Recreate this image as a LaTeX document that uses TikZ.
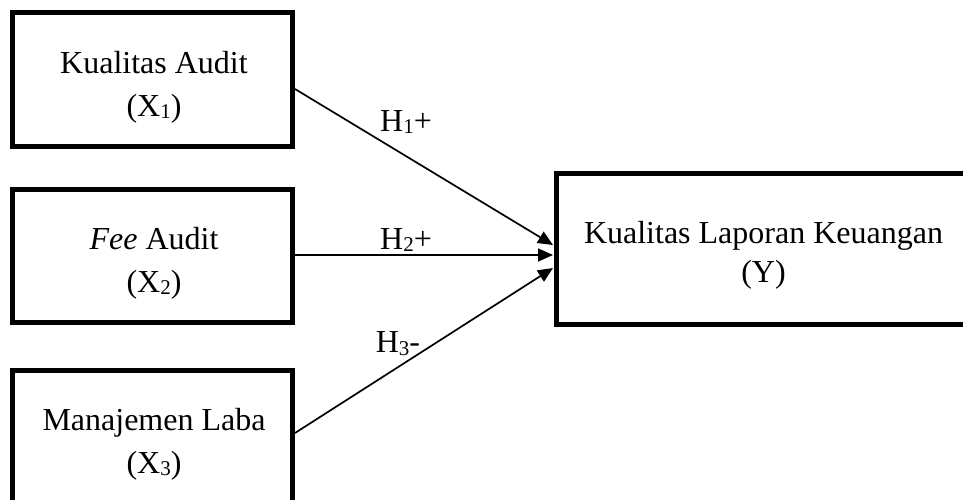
\documentclass[tikz,border=0pt]{standalone}
\usepackage{fontspec}
\setmainfont{Liberation Serif}
\usetikzlibrary{arrows.meta,calc}
\newcommand{\sbs}[1]{\raisebox{-2.5pt}{\fontsize{21}{21}\selectfont #1}}
\begin{document}
\begin{tikzpicture}[x=1pt,y=-1pt,
  varbox/.style={draw=black,line width=5pt,rectangle,inner sep=0pt,minimum width=280pt,minimum height=133pt},
  boxtext/.style={inner sep=0pt,align=center,font=\fontsize{32}{43}\selectfont},
  link/.style={line width=1.7pt,-{Triangle[length=15pt,width=13pt]}},
  hlabel/.style={font=\fontsize{32}{41}\selectfont,inner sep=0pt,anchor=base}]
\useasboundingbox (0,0) rectangle (963,500);
\clip (0,0) rectangle (963,500);
\node[varbox] (X1) at (152.5,79.5) {};
\node[varbox] (X2) at (152.5,255.5) {};
\node[varbox] (X3) at (152.5,436.5) {};
\node[varbox,minimum width=414pt,minimum height=151pt] (Y) at (763.5,248.5) {};
\node[boxtext] (X1t) at ($(X1.center)+(1.5,7.5)$) {Kualitas Audit\\(X\sbs{1})};
\node[boxtext] (X2t) at ($(X2.center)+(1.5,7.5)$) {\textit{Fee} Audit\\(X\sbs{2})};
\node[boxtext] (X3t) at ($(X3.center)+(1.5,7.5)$) {Manajemen Laba\\(X\sbs{3})};
\node[boxtext,font=\fontsize{32}{39}\selectfont] (Yt) at ($(Y.center)+(0,7)$) {Kualitas Laporan Keuangan\\(Y)};
\draw[link] ($(X1.east)+(0,9.5)$) -- ($(Y.west)+(-1,-3.5)$);
\draw[link] ($(X2.east)+(0,-0.5)$) -- ($(Y.west)+(-1,6.5)$);
\draw[link] ($(X3.east)+(0,-3.5)$) -- ($(Y.west)+(-1,19.5)$);
\node[hlabel] (h1) at (406,131.5) {H\sbs{1}+};
\node[hlabel] (h2) at (406,249) {H\sbs{2}+};
\node[hlabel] (h3) at (398,352.5) {H\sbs{3}-};
\end{tikzpicture}
\end{document}
